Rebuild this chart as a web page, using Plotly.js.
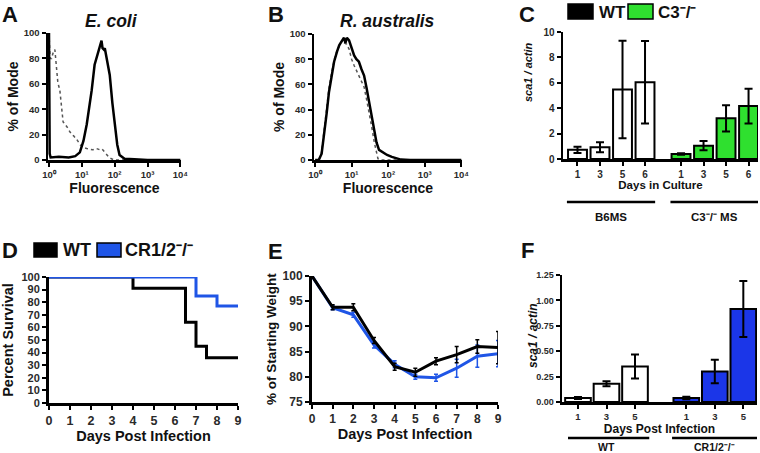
<!DOCTYPE html>
<html><head><meta charset="utf-8">
<script src="https://cdn.plot.ly/plotly-3.0.1.min.js"></script>
<style>html,body{margin:0;padding:0;background:#fff}#chart{width:760px;height:453px}</style>
</head><body><div id="chart"></div>
<script>
// ---------- Panel A: E. coli flow histogram ----------
const ecoliStainedFluor = [1, 1.05, 1.12, 2, 4, 6.3, 8.7, 11.2, 14.1, 17.4, 20, 24.5, 31.6, 37.2, 39.8, 42.7, 46.8, 50.1, 56.2, 70.8, 85.1, 100, 120, 141, 200, 398, 1000, 10000];
const ecoliStainedMode  = [100, 5, 2, 2.5, 2, 3, 6, 15, 28, 43, 55, 75, 85, 92, 94, 88, 87, 88, 80, 67, 45, 28, 12, 4, 1, 0.5, 0, 0];
const ecoliControlFluor = [1, 1.08, 1.2, 1.32, 1.51, 1.66, 1.86, 2.14, 2.69, 3.55, 4.37, 5.62, 7.08, 8.91, 11, 14.1, 21.4, 28.2, 35.5, 41.7, 50.1, 63.1, 79.4, 100, 10000];
const ecoliControlMode  = [100, 80, 80, 84, 87, 75, 61, 55, 30, 26, 22, 19, 16, 12, 10, 9, 8, 9, 8, 8.5, 6, 3, 1, 0, 0];

// ---------- Panel B: R. australis flow histogram ----------
const raStainedFluor = [1, 1.26, 1.51, 1.78, 2.09, 2.4, 2.82, 3.31, 3.98, 4.57, 5.25, 6.17, 6.76, 7.41, 8.51, 10, 11.7, 13.5, 15.8, 18.6, 21.9, 25.7, 30.2, 35.5, 41.7, 47.9, 56.2, 70.8, 93.3, 126, 158, 224, 398, 10000];
const raStainedMode  = [0, 0, 5, 20, 38, 54, 67, 78, 86, 91, 94, 97, 93, 97, 95, 88, 83, 80, 78, 72, 67, 57, 46, 34, 22, 14, 8, 6, 4, 2.5, 1.5, 0.3, 0, 0];
const raControlFluor = [1.26, 1.48, 1.74, 2.04, 2.4, 2.82, 3.31, 3.98, 4.79, 5.62, 6.31, 7.24, 8.51, 10, 11.7, 14.1, 17.8, 21.9, 25.7, 30.2, 35.5, 41.7, 47.9, 52.5, 63.1, 10000];
const raControlMode  = [0, 5, 22, 40, 57, 69, 79, 87, 92, 95, 93, 92, 88, 80, 75, 70, 63, 58, 48, 38, 26, 14, 5, 1, 0, 0];
const logTickVals = [1, 10, 100, 1000, 10000];
const logTickText = ['10\u2070', '10\u00b9', '10\u00b2', '10\u00b3', '10\u2074'];

// ---------- Panel C: sca1/actin, days in culture ----------
const cDays = ['1', '3', '5', '6'];
const cGroups = ['B6MS', 'C3\u207b/\u207b MS'];
const cWT = [0.72, 0.92, 5.47, 6.04];
const cWTErr = [0.25, 0.39, 3.84, 3.25];
const cC3 = [0.39, 1.05, 3.2, 4.17];
const cC3Err = [0.06, 0.37, 1.03, 1.37];

// ---------- Panel D: survival ----------
const dWTDays = [0, 4, 6.5, 7, 7.5, 9];
const dWTSurv = [100, 91, 64, 45, 36, 36];
const dCRDays = [0, 7, 8, 9];
const dCRSurv = [100, 85, 77, 77];

// ---------- Panel E: weight ----------
const eDays = [0, 1, 2, 3, 4, 5, 6, 7, 8, 9];
const eWT = [100, 93.8, 93.8, 87.2, 82, 80.9, 83.1, 84.4, 86, 85.8];
const eWTErr = [0, 0.5, 0.7, 0.6, 0.7, 0.8, 0.7, 1.6, 1.35, 3.2];
const eCR = [100, 93.7, 92.3, 86.3, 82.5, 80, 79.8, 81.7, 84.1, 84.6];
const eCRErr = [0, 0.4, 0.5, 0.6, 0.7, 0.5, 0.7, 1.8, 2.2, 2.6];

// ---------- Panel F: sca1/actin, days post infection ----------
const fDays = ['1', '3', '5'];
const fGroups = ['WT', 'CR1/2\u207b/\u207b'];
const fWT = [0.04, 0.18, 0.35];
const fWTErr = [0.01, 0.025, 0.118];
const fCR = [0.04, 0.30, 0.915];
const fCRErr = [0.012, 0.115, 0.275];

// legend labels
const legendWT = 'WT';
const legendC3 = 'C3\u207b/\u207b';
const legendCR = 'CR1/2\u207b/\u207b';

// ---------- styles ----------
const FONT = '"Liberation Sans", Arial, sans-serif';
const GREEN = '#2fe02f';
const BLUE_LINE = '#1f55e6';
const BLUE_BAR = '#1b36e8';
const W = 760, H = 453;
const px = v => v / W;
const py = v => 1 - v / H;

function groupPos(n, g, gap) { return Array.from({length: n}, (_, i) => g * (n + gap) + i); }
const cGap = 0.6, fGap = 0.8;
const cPos0 = groupPos(cDays.length, 0, cGap), cPos1 = groupPos(cDays.length, 1, cGap);
const fPos0 = groupPos(fDays.length, 0, fGap), fPos1 = groupPos(fDays.length, 1, fGap);

const errStyle = (arr) => ({type: 'data', array: arr, visible: true, color: '#000', thickness: 2, width: 4});

const traces = [
  {type: 'scatter', mode: 'lines', x: ecoliControlFluor, y: ecoliControlMode, xaxis: 'x', yaxis: 'y', cliponaxis: false,
   line: {color: '#555', width: 1.5, dash: 'dot'}},
  {type: 'scatter', mode: 'lines', x: ecoliStainedFluor, y: ecoliStainedMode, xaxis: 'x', yaxis: 'y', cliponaxis: false,
   line: {color: '#000', width: 2.5}},
  {type: 'scatter', mode: 'lines', x: raControlFluor, y: raControlMode, xaxis: 'x2', yaxis: 'y2', cliponaxis: false,
   line: {color: '#555', width: 1.5, dash: 'dot'}},
  {type: 'scatter', mode: 'lines', x: raStainedFluor, y: raStainedMode, xaxis: 'x2', yaxis: 'y2', cliponaxis: false,
   line: {color: '#000', width: 2.5}},
  {type: 'bar', x: cPos0, y: cWT, width: 0.84, xaxis: 'x3', yaxis: 'y3', cliponaxis: false,
   marker: {color: '#fff', line: {color: '#000', width: 2}}, error_y: errStyle(cWTErr)},
  {type: 'bar', x: cPos1, y: cC3, width: 0.84, xaxis: 'x3', yaxis: 'y3', cliponaxis: false,
   marker: {color: GREEN, line: {color: '#000', width: 2}}, error_y: errStyle(cC3Err)},
  {type: 'scatter', mode: 'lines', x: dWTDays, y: dWTSurv, xaxis: 'x4', yaxis: 'y4', cliponaxis: false,
   line: {color: '#000', width: 3, shape: 'hv'}},
  {type: 'scatter', mode: 'lines', x: dCRDays, y: dCRSurv, xaxis: 'x4', yaxis: 'y4', cliponaxis: false,
   line: {color: BLUE_LINE, width: 3, shape: 'hv'}},
  {type: 'scatter', mode: 'lines', x: eDays, y: eCR, xaxis: 'x5', yaxis: 'y5', cliponaxis: false,
   line: {color: BLUE_LINE, width: 3}, error_y: {type: 'data', array: eCRErr, color: BLUE_LINE, thickness: 1.5, width: 2}},
  {type: 'scatter', mode: 'lines', x: eDays, y: eWT, xaxis: 'x5', yaxis: 'y5', cliponaxis: false,
   line: {color: '#000', width: 3}, error_y: {type: 'data', array: eWTErr, color: '#000', thickness: 1.5, width: 2}},
  {type: 'bar', x: fPos0, y: fWT, width: 0.9, xaxis: 'x6', yaxis: 'y6', cliponaxis: false,
   marker: {color: '#fff', line: {color: '#000', width: 2}}, error_y: errStyle(fWTErr)},
  {type: 'bar', x: fPos1, y: fCR, width: 0.9, xaxis: 'x6', yaxis: 'y6', cliponaxis: false,
   marker: {color: BLUE_BAR, line: {color: '#000', width: 2}}, error_y: errStyle(fCRErr)}
];

const base = {showline: true, linecolor: '#000', linewidth: 2.5, ticks: 'outside', ticklen: 4, tickwidth: 2,
  tickcolor: '#000', showgrid: false, zeroline: false, fixedrange: true, automargin: false};
const tf = (s) => ({family: FONT, size: s, color: '#2a2a2a', weight: 700});
const ttl = (t, s, st, italic) => ({text: t, standoff: st, font: {family: FONT, size: s, color: '#111', weight: 700, style: italic ? 'italic' : 'normal'}});

const layout = {
  width: W, height: H, margin: {l: 0, r: 0, t: 0, b: 0}, paper_bgcolor: '#fff', plot_bgcolor: 'rgba(0,0,0,0)',
  showlegend: false, bargap: 0,
  xaxis: {...base, type: 'log', domain: [px(48), px(181)], range: [-0.03, 4.02], anchor: 'y', tickvals: logTickVals, ticktext: logTickText, tickfont: tf(9.5), title: ttl('Fluorescence', 14, 0)},
  yaxis: {...base, domain: [py(160), py(33)], range: [0, 100], anchor: 'x', dtick: 20, tickfont: tf(9.5), title: ttl('% of Mode', 14, 2)},
  xaxis2: {...base, type: 'log', domain: [px(314), px(462)], range: [-0.03, 4.02], anchor: 'y2', tickvals: logTickVals, ticktext: logTickText, tickfont: tf(9.5), title: ttl('Fluorescence', 14, 0)},
  yaxis2: {...base, domain: [py(160), py(34)], range: [0, 100], anchor: 'x2', dtick: 20, tickfont: tf(9.5), title: ttl('% of Mode', 14, 2)},
  xaxis3: {...base, domain: [px(563), px(758)], range: [-0.644, 8.02], anchor: 'y3', tickvals: cPos0.concat(cPos1), ticktext: cDays.concat(cDays), tickfont: tf(10), title: ttl('Days in Culture', 11.5, 3)},
  yaxis3: {...base, domain: [py(159), py(32)], range: [0, 10], anchor: 'x3', dtick: 2, tickfont: tf(10)},
  xaxis4: {...base, linewidth: 3, domain: [px(49), px(238)], range: [0, 9], anchor: 'y4', dtick: 1, tickfont: tf(12.5), title: ttl('Days Post Infection', 14.5, 0)},
  yaxis4: {...base, linewidth: 3, domain: [py(403), py(277)], range: [0, 100], anchor: 'x4', dtick: 10, tickfont: tf(11), title: ttl('Percent Survival', 14.5, 5)},
  xaxis5: {...base, linewidth: 3, domain: [px(312), px(498)], range: [0, 9], anchor: 'y5', dtick: 1, tickfont: tf(12), title: ttl('Days Post Infection', 14.5, 0)},
  yaxis5: {...base, linewidth: 3, domain: [py(402), py(276)], range: [75, 100], anchor: 'x5', dtick: 5, tickfont: tf(12), title: ttl('% of Starting Weight', 13.5, 3)},
  xaxis6: {...base, domain: [px(562), px(757)], range: [-0.561, 6.28], anchor: 'y6', tickvals: fPos0.concat(fPos1), ticktext: fDays.concat(fDays), tickfont: tf(9.5), title: ttl('Days Post Infection', 12, 1)},
  yaxis6: {...base, domain: [py(402), py(275)], range: [0, 1.25], anchor: 'x6', tickvals: [0, 0.25, 0.5, 0.75, 1, 1.25], ticktext: ['0.00', '0.25', '0.50', '0.75', '1.00', '1.25'], tickfont: tf(9)},
  shapes: [], annotations: []
};

const ann = (text, x, y, size, opts) => Object.assign({text: text, x: x, y: y, xref: 'paper', yref: 'paper', showarrow: false,
  xanchor: 'center', yanchor: 'middle', font: {family: FONT, size: size, color: '#111', weight: 700}}, opts || {});
const italicFont = (s) => ({family: FONT, size: s, color: '#111', weight: 700, style: 'italic'});

// panel letters
[['A', 0, 14], ['B', 266, 14], ['C', 517, 14], ['D', 0, 250], ['E', 266, 251], ['F', 519, 250]].forEach(([t, x, y]) =>
  layout.annotations.push(ann(t, px(x), py(y), 22, {xanchor: 'left'})));
// panel titles
layout.annotations.push(ann('E. coli', px(111), py(21), 17, {font: italicFont(17.5)}));
layout.annotations.push(ann('R. australis', px(387), py(21), 17, {font: italicFont(17.5)}));
// y titles of the bar panels (C sits high, as in the original)
layout.annotations.push(ann('sca1 / actin', px(528), py(72), 11, {textangle: -90, font: italicFont(11)}));
layout.annotations.push(ann('sca1 / actin', px(533), py(336), 12, {textangle: -90, font: italicFont(12)}));

// legends
function legendBox(x0, x1, y0, y1, color) {
  layout.shapes.push({type: 'rect', xref: 'paper', yref: 'paper', x0: px(x0), x1: px(x1), y0: py(y1), y1: py(y0),
    fillcolor: color, line: {color: '#000', width: 1.5}});
}
legendBox(568, 593, 4, 19, '#000');
layout.annotations.push(ann(legendWT, px(597), py(12), 17, {xanchor: 'left'}));
legendBox(628, 653, 4, 19, GREEN);
layout.annotations.push(ann(legendC3, px(656), py(12), 17, {xanchor: 'left'}));
legendBox(34, 57, 243, 257, '#000');
layout.annotations.push(ann(legendWT, px(61), py(250), 18, {xanchor: 'left'}));
legendBox(97, 121, 243, 257, BLUE_LINE);
layout.annotations.push(ann(legendCR, px(123), py(250), 18, {xanchor: 'left'}));

// group bars under C and F
function groupLine(axis, pos, yLine, yText, label, size, pad0, pad1) {
  layout.shapes.push({type: 'line', xref: axis, yref: 'paper', x0: pos[0] - pad0, x1: pos[pos.length - 1] + pad1,
    y0: py(yLine), y1: py(yLine), line: {color: '#000', width: 2.5}});
  layout.annotations.push({text: label, xref: axis, yref: 'paper', x: (pos[0] + pos[pos.length - 1]) / 2, y: py(yText),
    showarrow: false, xanchor: 'center', yanchor: 'middle', font: {family: FONT, size: size, color: '#111', weight: 700}});
}
groupLine('x3', cPos0, 202, 217, cGroups[0], 11.5, 0.47, 0.45);
groupLine('x3', cPos1, 202, 217, cGroups[1], 11.5, 0.47, 0.42);
groupLine('x6', fPos0, 438, 447, fGroups[0], 10.5, 0.35, 0.5);
groupLine('x6', fPos1, 438, 447, fGroups[1], 10.5, 0.5, 0.48);

Plotly.newPlot('chart', traces, layout, {displayModeBar: false, staticPlot: true});
</script></body></html>
